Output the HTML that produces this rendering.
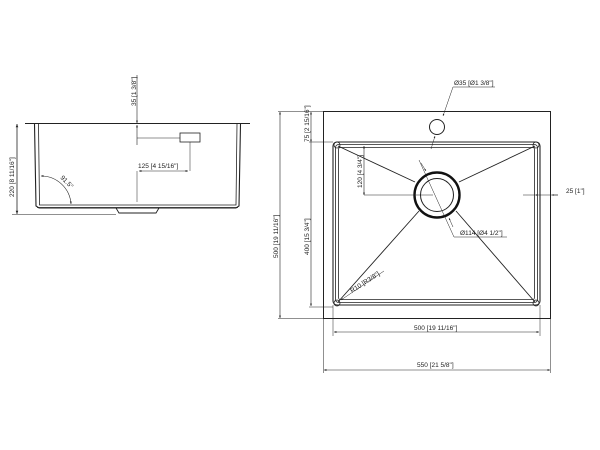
<!DOCTYPE html>
<html><head><meta charset="utf-8"><style>
html,body{margin:0;padding:0;background:#fff}
svg{display:block}
text{font-family:"Liberation Sans",sans-serif;font-size:6.5px;fill:#222}
</style></head><body>
<svg width="600" height="450" viewBox="0 0 600 450" xmlns="http://www.w3.org/2000/svg">
<defs>
<marker id="a" viewBox="0 0 10 10" refX="10" refY="5" markerWidth="6" markerHeight="4" orient="auto-start-reverse"><path d="M0,1 L10,5 L0,9z" fill="#222"/></marker>
</defs>
<g fill="none" stroke="#222" stroke-width="0.8">
<line x1="25" y1="123.5" x2="250" y2="123.5" stroke-width="1.1"/>
<path d="M34.5,124 L36,206 L39,208 L236,208 L239,206 L240.5,124" stroke-width="1.1"/>
<path d="M38.5,124 L39.5,205 L236,205 L237,124" stroke-width="0.8"/>
<line x1="37" y1="207.5" x2="238" y2="207.5"/>
<path d="M116,208 L119,213 L156,213 L159,208" stroke-width="0.9"/>
<line x1="17" y1="124" x2="17" y2="214" marker-start="url(#a)" marker-end="url(#a)"/>
<line x1="12" y1="214.5" x2="116" y2="214.5" stroke-width="0.5"/>
<line x1="137" y1="75" x2="137" y2="123" marker-end="url(#a)" stroke-width="0.6"/>
<line x1="137" y1="145" x2="137" y2="125" marker-end="url(#a)" stroke-width="0.6"/>
<line x1="137" y1="138" x2="180" y2="138" stroke-width="0.5"/>
<rect x="180" y="133" width="20" height="9" stroke-width="0.8"/>
<line x1="190" y1="142" x2="190" y2="171" stroke-width="0.5"/>
<line x1="137" y1="171" x2="137" y2="202" stroke-width="0.5"/>
<line x1="139" y1="171" x2="188" y2="171" marker-start="url(#a)" marker-end="url(#a)" stroke-width="0.6"/>
<path d="M41,176 A30,30 0 0 1 71,204" marker-start="url(#a)" marker-end="url(#a)" stroke-width="0.6"/>

<rect x="323.5" y="111.5" width="227" height="207" stroke-width="1"/>
<rect x="333" y="142" width="207" height="163" rx="4" stroke-width="1.1"/>
<rect x="335.5" y="144.5" width="202" height="158" rx="3" stroke-width="0.8"/>
<rect x="338.5" y="147.5" width="196" height="152" rx="2" stroke-width="0.8"/>
<circle cx="337" cy="145" r="3" stroke-width="0.8"/>
<circle cx="536" cy="145" r="3" stroke-width="0.8"/>
<circle cx="337" cy="303" r="3" stroke-width="0.8"/>
<circle cx="536" cy="303" r="3" stroke-width="0.8"/>
<line x1="338" y1="146" x2="415" y2="182" stroke-width="0.9"/>
<line x1="535" y1="146" x2="459" y2="182" stroke-width="0.9"/>
<line x1="338" y1="302" x2="419" y2="211" stroke-width="0.9"/>
<line x1="535" y1="302" x2="456" y2="211" stroke-width="0.9"/>
<circle cx="437" cy="195" r="22.5" stroke-width="2.4" stroke="#111"/>
<circle cx="437" cy="195" r="16.5" stroke-width="1"/>
<circle cx="437" cy="127" r="7.5" stroke-width="1"/>
<line x1="453" y1="87" x2="443" y2="116" marker-end="url(#a)" stroke-width="0.5"/>
<line x1="431" y1="149" x2="435" y2="136" marker-end="url(#a)" stroke-width="0.5"/>
<line x1="453" y1="87" x2="495" y2="87" stroke-width="0.5"/>
<line x1="419" y1="160" x2="454" y2="237" stroke-width="0.5"/>
<line x1="421" y1="163" x2="426" y2="171" marker-end="url(#a)" stroke-width="0.5"/>
<line x1="453" y1="227" x2="449" y2="218" marker-end="url(#a)" stroke-width="0.5"/>
<line x1="454" y1="237" x2="507" y2="237" stroke-width="0.5"/>
<line x1="364" y1="146" x2="364" y2="195" marker-start="url(#a)" marker-end="url(#a)" stroke-width="0.6"/>
<line x1="364" y1="195" x2="433" y2="195" stroke-width="0.5"/>
<line x1="523" y1="195" x2="538" y2="195" marker-end="url(#a)" stroke-width="0.5"/>
<line x1="558" y1="195" x2="552" y2="195" marker-end="url(#a)" stroke-width="0.5"/>
<line x1="538" y1="195" x2="558" y2="195" stroke-width="0.5"/>
<line x1="280" y1="112" x2="280" y2="318" marker-start="url(#a)" marker-end="url(#a)" stroke-width="0.6"/>
<line x1="278" y1="111.5" x2="323" y2="111.5" stroke-width="0.5"/>
<line x1="278" y1="318.5" x2="323" y2="318.5" stroke-width="0.5"/>
<line x1="311" y1="112" x2="311" y2="142" marker-start="url(#a)" marker-end="url(#a)" stroke-width="0.6"/>
<line x1="311" y1="142" x2="311" y2="306" marker-end="url(#a)" stroke-width="0.6"/>
<line x1="309" y1="142" x2="333" y2="142" stroke-width="0.5"/>
<line x1="309" y1="307" x2="333" y2="307" stroke-width="0.5"/>
<line x1="333" y1="305" x2="333" y2="336" stroke-width="0.5"/>
<line x1="540" y1="305" x2="540" y2="336" stroke-width="0.5"/>
<line x1="334" y1="332" x2="539" y2="332" marker-start="url(#a)" marker-end="url(#a)" stroke-width="0.6"/>
<line x1="323.5" y1="318" x2="323.5" y2="373" stroke-width="0.5"/>
<line x1="550.5" y1="318" x2="550.5" y2="373" stroke-width="0.5"/>
<line x1="324" y1="370" x2="550" y2="370" marker-start="url(#a)" marker-end="url(#a)" stroke-width="0.6"/>
<line x1="384" y1="271" x2="341" y2="300" marker-end="url(#a)" stroke-width="0.5"/>
</g>
<g>
<text transform="translate(136,106) rotate(-90)">35 [1 3/8"]</text>
<text x="138" y="168">125 [4 15/16"]</text>
<text transform="translate(60,178) rotate(45)">91.5°</text>
<text transform="translate(14,197) rotate(-90)">220 [8 11/16"]</text>
<text x="454" y="85">Ø35 [Ø1 3/8"]</text>
<text x="460" y="235">Ø114 [Ø4 1/2"]</text>
<text transform="translate(362,188) rotate(-90)">120 [4 3/4"]</text>
<text x="566" y="193">25 [1"]</text>
<text transform="translate(278,258) rotate(-90)">500 [19 11/16"]</text>
<text transform="translate(309,142) rotate(-90)">75 [2 15/16"]</text>
<text transform="translate(309,255) rotate(-90)">400 [15 3/4"]</text>
<text x="414" y="330">500 [19 11/16"]</text>
<text x="417" y="367">550 [21 5/8"]</text>
<text transform="translate(352,293) rotate(-33)">R10 [R3/8"]</text>
</g>
</svg>
</body></html>
